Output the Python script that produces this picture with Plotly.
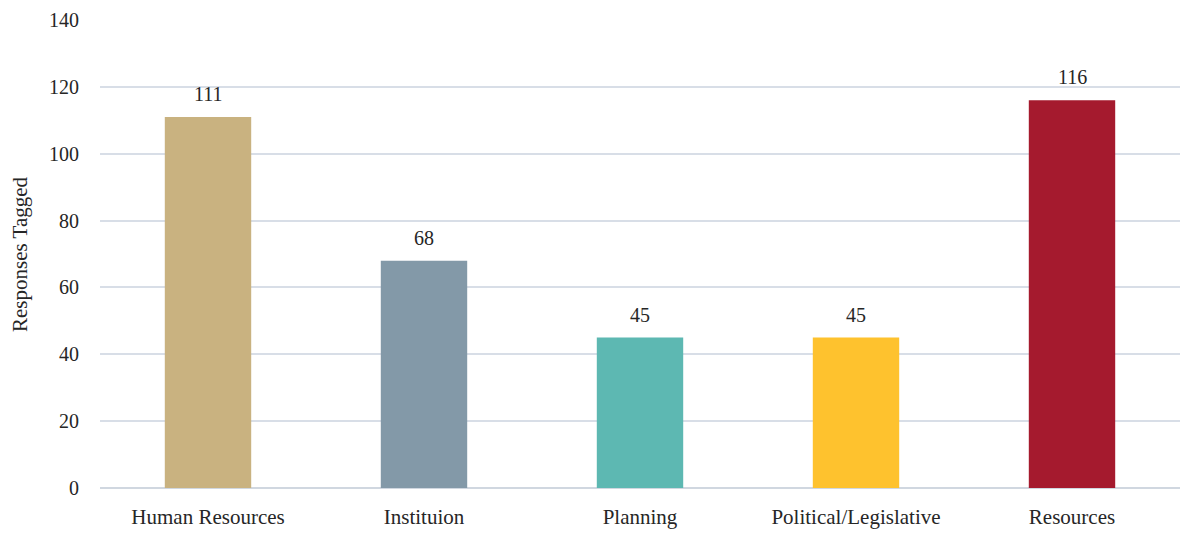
import plotly.graph_objects as go

categories = ["Human Resources", "Instituion", "Planning", "Political/Legislative", "Resources"]
values = [111, 68, 45, 45, 116]
colors = ["#C9B280", "#8399A8", "#5DB8B2", "#FEC22E", "#A51A2E"]
y_ticks = [0, 20, 40, 60, 80, 100, 120, 140]
y_title = "Responses Tagged"

font_family = "Liberation Serif, DejaVu Serif, serif"
text_color = "#262626"

fig = go.Figure(go.Bar(
    x=categories, y=values,
    marker=dict(color=colors, line=dict(width=0)),
    hoverinfo="x+y",
))

for c, v in zip(categories, values):
    fig.add_annotation(x=c, y=v, text=str(v), showarrow=False,
                       yanchor="bottom", yshift=10,
                       font=dict(family=font_family, size=20, color=text_color))

fig.add_annotation(text=y_title, xref="paper", yref="paper",
                   x=-80 / 1080, y=0.5, xanchor="center", yanchor="middle",
                   textangle=-90, showarrow=False,
                   font=dict(family=font_family, size=21, color=text_color))

fig.update_layout(
    width=1187, height=533,
    margin=dict(l=100, r=7, t=20, b=45),
    paper_bgcolor="white", plot_bgcolor="white",
    bargap=0.6,
    showlegend=False,
    font=dict(family=font_family, size=20, color=text_color),
    yaxis=dict(
        range=[0, 140], tickvals=y_ticks, automargin=False,
        showgrid=True, gridcolor="#D8DEE7", gridwidth=1.5,
        zeroline=True, zerolinecolor="#D0D7E0", zerolinewidth=1.5,
        ticks="", ticklabelstandoff=20,
        tickfont=dict(family=font_family, size=20, color=text_color),
    ),
    xaxis=dict(
        showgrid=False, ticks="", showline=False, ticklabelstandoff=14,
        automargin=False,
        tickfont=dict(family=font_family, size=21, color=text_color),
    ),
)

fig.write_html("out.html")
